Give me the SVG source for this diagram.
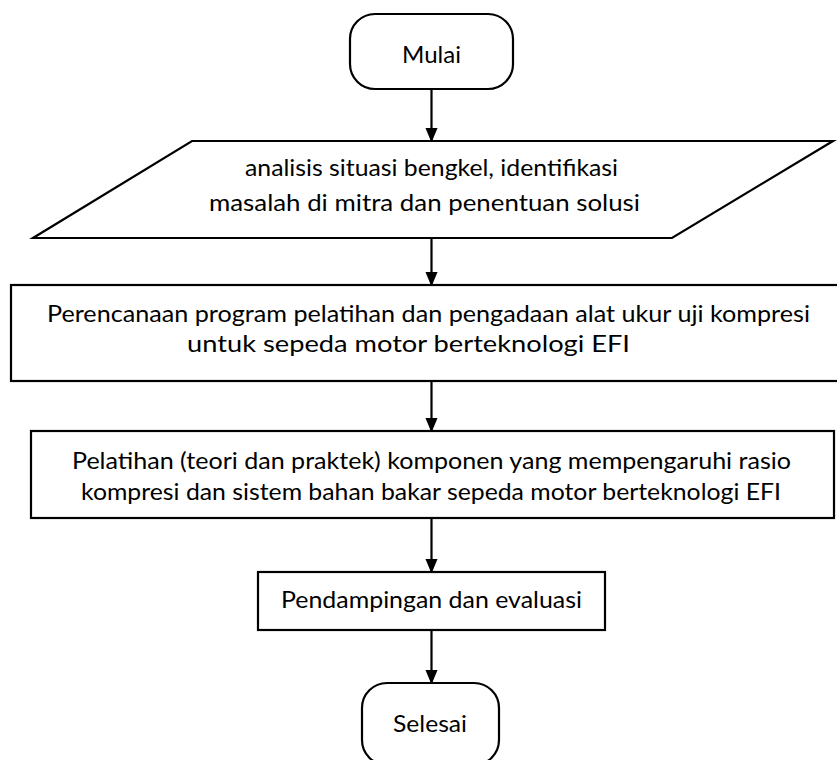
<svg xmlns="http://www.w3.org/2000/svg" width="837" height="760" viewBox="0 0 837 760">
<style>
.shape{fill:#fff;stroke:#000;stroke-width:2.2}
.conn{stroke:#000;stroke-width:2.2;fill:none}
text{font-family:Lato,"Open Sans",sans-serif;font-size:23.5px;fill:#000}
</style>
<defs>
<marker id="arr" markerWidth="15" markerHeight="18" refX="15" refY="7.5" orient="auto" markerUnits="userSpaceOnUse" viewBox="0 0 18 15">
<path d="M0,0 L18,7.5 L0,15 Z" fill="#000"/>
</marker>
</defs>
<rect width="837" height="760" fill="#fff"/>
<g id="connectors">
<line class="conn" x1="431.5" y1="89" x2="431.5" y2="140" marker-end="url(#arr)"/>
<line class="conn" x1="431.5" y1="238" x2="431.5" y2="284" marker-end="url(#arr)"/>
<line class="conn" x1="431.5" y1="381" x2="431.5" y2="430" marker-end="url(#arr)"/>
<line class="conn" x1="431.5" y1="518" x2="431.5" y2="571" marker-end="url(#arr)"/>
<line class="conn" x1="431.5" y1="630" x2="431.5" y2="682" marker-end="url(#arr)"/>
</g>
<g id="mulai">
<rect class="shape" x="350" y="14" width="163" height="75" rx="25" ry="25"/>
<text x="402" y="63" textLength="59" lengthAdjust="spacingAndGlyphs">Mulai</text>
</g>
<g id="analisis">
<polygon class="shape" points="192,141 833,141 672,238 33,238"/>
<text x="245" y="176" textLength="373" lengthAdjust="spacingAndGlyphs">analisis situasi bengkel, identifikasi</text>
<text x="209" y="211" textLength="431" lengthAdjust="spacingAndGlyphs">masalah di mitra dan penentuan solusi</text>
</g>
<g id="perencanaan">
<rect class="shape" x="11" y="285" width="860" height="96"/>
<text x="47" y="322" textLength="763" lengthAdjust="spacingAndGlyphs">Perencanaan program pelatihan dan pengadaan alat ukur uji kompresi</text>
<text x="187" y="352" textLength="443" lengthAdjust="spacingAndGlyphs">untuk sepeda motor berteknologi EFI</text>
</g>
<g id="pelatihan">
<rect class="shape" x="31" y="431" width="803" height="87"/>
<text x="72" y="469" textLength="719" lengthAdjust="spacingAndGlyphs">Pelatihan (teori dan praktek) komponen yang mempengaruhi rasio</text>
<text x="81" y="500" textLength="700" lengthAdjust="spacingAndGlyphs">kompresi dan sistem bahan bakar sepeda motor berteknologi EFI</text>
</g>
<g id="pendampingan">
<rect class="shape" x="258" y="572" width="347" height="58"/>
<text x="281" y="608" textLength="301" lengthAdjust="spacingAndGlyphs">Pendampingan dan evaluasi</text>
</g>
<g id="selesai">
<rect class="shape" x="362" y="683" width="137" height="82" rx="25" ry="25"/>
<text x="393" y="732" textLength="74" lengthAdjust="spacingAndGlyphs">Selesai</text>
</g>
</svg>
